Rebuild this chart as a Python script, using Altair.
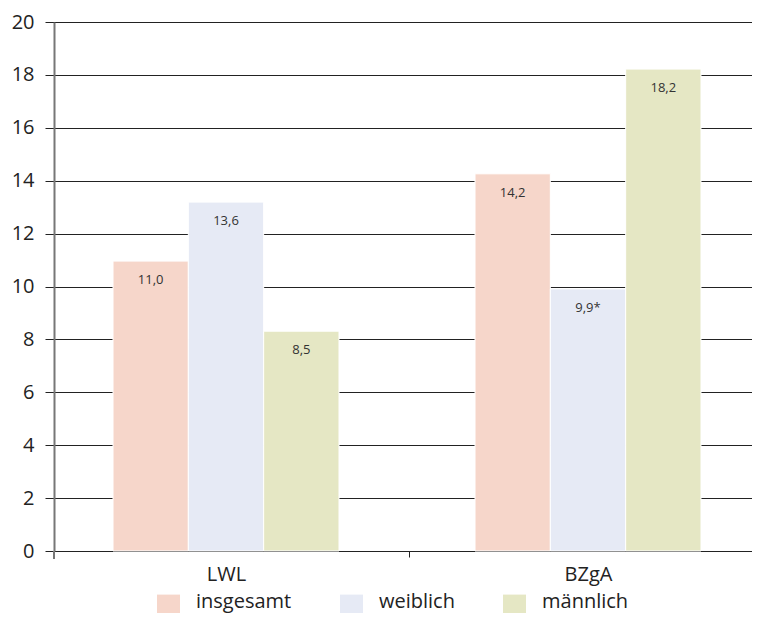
import altair as alt
import pandas as pd

categories = ["LWL", "BZgA"]
groups = ["insgesamt", "weiblich", "männlich"]
lwl_values = [10.96, 13.19, 8.31]
bzga_values = [14.26, 9.91, 18.22]
lwl_labels = ["11,0", "13,6", "8,5"]
bzga_labels = ["14,2", "9,9*", "18,2"]
colors = ["#F6D6CA", "#E6EAF5", "#E5E7C4"]
y_ticks = [0, 2, 4, 6, 8, 10, 12, 14, 16, 18, 20]

rows = []
for cat, vals, labs in [("LWL", lwl_values, lwl_labels), ("BZgA", bzga_values, bzga_labels)]:
    for g, v, l in zip(groups, vals, labs):
        rows.append({"cat": cat, "grp": g, "val": v, "lab": l})
df = pd.DataFrame(rows)

FONT = "Open Sans"

x = alt.X(
    "cat:N",
    sort=categories,
    scale=alt.Scale(range=[-9, 715], paddingInner=0.3757, paddingOuter=0.18785),
    axis=alt.Axis(
        title=None, domain=False, labelAngle=0, labelFontSize=20, labelColor="#222",
        labelFont=FONT, tickColor="#222", tickSize=6, tickOffset=183, labelOffset=-183,
        labelPadding=7,
    ),
)
xo = alt.XOffset("grp:N", sort=groups, scale=alt.Scale(paddingInner=0, paddingOuter=0))
y = alt.Y(
    "val:Q",
    scale=alt.Scale(domain=[0, 20], nice=False),
    axis=alt.Axis(
        title=None, values=y_ticks, grid=True, gridColor="#222", gridWidth=1,
        domainColor="#777", domainWidth=2, tickColor="#222", tickSize=4,
        labelFontSize=20, labelPadding=16, labelColor="#222", labelFont=FONT,
    ),
)
color = alt.Color(
    "grp:N",
    sort=groups,
    scale=alt.Scale(domain=groups, range=colors),
    legend=alt.Legend(
        title=None, orient="none", legendX=103, legendY=568, direction="horizontal",
        symbolType="M-1,-0.6H1V1H-1Z", symbolSize=529, symbolStrokeWidth=0,
        symbolOpacity=1, labelFontSize=20, labelOffset=16, columnPadding=48,
        labelColor="#222", labelFont=FONT, padding=0,
    ),
)

base = alt.Chart(df).encode(x=x, xOffset=xo, y=y)
bars = base.mark_bar(stroke="white", strokeWidth=1, opacity=1).encode(color=color)
text = base.mark_text(baseline="middle", dy=19, fontSize=13, color="#333", font=FONT).encode(text="lab:N")
ext = alt.Chart(pd.DataFrame({"a": [0]})).mark_rule(color="#777", strokeWidth=2).encode(
    x=alt.value(0), y=alt.value(529), y2=alt.value(537)
)

chart = (
    alt.layer(bars, text, ext)
    .properties(
        width=698, height=529,
        autosize=alt.AutoSizeParams(type="none"),
        padding={"left": 46, "top": 14, "right": 0, "bottom": 64},
    )
    .configure_view(stroke=None)
    .configure(font=FONT)
)

chart.save("out.html", embed_options={"renderer": "svg", "actions": False})
